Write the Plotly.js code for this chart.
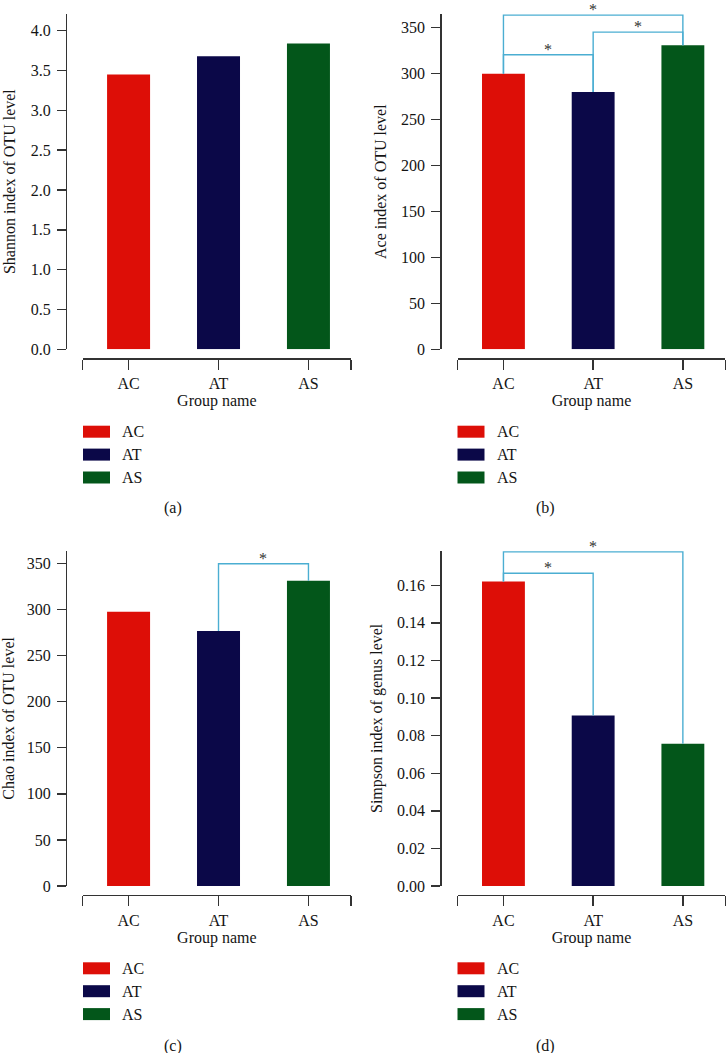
<!DOCTYPE html>
<html>
<head>
<meta charset="utf-8">
<script src="https://cdn.plot.ly/plotly-3.0.1.min.js"></script>
<style>html,body{margin:0;padding:0;background:#fff;}#chart{width:726px;height:1053px;}</style>
</head>
<body>
<div id="chart"></div>
<script>
// ---- data ----
const categories = ['AC', 'AT', 'AS'];
const shannon = [3.45, 3.68, 3.84];
const ace = [300, 280, 331];
const chao = [297.5, 276.5, 331];
const simpson = [0.162, 0.0907, 0.0757];
const barColors = ['#DD0E07', '#0B0848', '#03561A'];
const yTitles = ['Shannon index of OTU level', 'Ace index of OTU level', 'Chao index of OTU level', 'Simpson index of genus level'];
const xTitle = 'Group name';
const panelLabels = ['(a)', '(b)', '(c)', '(d)'];
// significance brackets: [group i, group j, bracket height]
const shannonSig = [];
const aceSig = [[0, 1, 320.7], [1, 2, 345.3], [0, 2, 363.8]];
const chaoSig = [[1, 2, 349.6]];
const simpsonSig = [[0, 1, 0.1664], [0, 2, 0.1778]];
const sigMark = '*';

// ---- layout geometry (pixels) ----
const W = 726, H = 1053;
const px = v => v / W;
const py = v => 1 - v / H;
const FONT = 'Liberation Serif, Times New Roman, serif';
const AXC = '#333333';
const BRC = '#4BAED2';
const TXT = '#141414';

const panels = [
  {vals: shannon, sig: shannonSig, yRange: [0, 4.21], dtick: 0.5, fmt: '.1f', xL: 82.7, xR: 351, yT: 14, yB: 349.3, xLine: 358.3, yAxisX: 66, legX: 83, legY: 431.7, capX: 173, capY: 508},
  {vals: ace, sig: aceSig, yRange: [0, 365], dtick: 50, fmt: 'd', xL: 457.7, xR: 725.3, yT: 14, yB: 349.3, xLine: 358.3, yAxisX: 440.3, legX: 457.5, legY: 431.7, capX: 545.7, capY: 508},
  {vals: chao, sig: chaoSig, yRange: [0, 363.7], dtick: 50, fmt: 'd', xL: 82.7, xR: 351, yT: 550.7, yB: 886, xLine: 895, yAxisX: 66, legX: 83, legY: 968.3, capX: 173, capY: 1046.3},
  {vals: simpson, sig: simpsonSig, yRange: [0, 0.1784], dtick: 0.02, fmt: '.2f', xL: 457.7, xR: 725.3, yT: 550.7, yB: 886, xLine: 895, yAxisX: 440.3, legX: 457.5, legY: 968.3, capX: 545.7, capY: 1046.3}
];

const xRange = [-0.51, 2.473];
const traces = [];
const shapes = [];
const annotations = [];
const layout = {
  width: W, height: H,
  margin: {l: 0, r: 0, t: 0, b: 0},
  paper_bgcolor: '#ffffff', plot_bgcolor: 'rgba(0,0,0,0)',
  showlegend: false,
  font: {family: FONT, size: 16, color: TXT},
  shapes: shapes, annotations: annotations
};

panels.forEach((p, k) => {
  const n = k === 0 ? '' : String(k + 1);
  const xa = 'x' + n, ya = 'y' + n;
  const xs = categories.map((c, i) => i);
  traces.push({
    type: 'bar', x: xs, y: p.vals, xaxis: xa, yaxis: ya,
    width: 0.478,
    marker: {color: barColors, line: {width: 0}},
    hoverinfo: 'skip'
  });
  p.sig.forEach(s => {
    const [i, j, h] = s;
    traces.push({
      type: 'scatter', mode: 'lines', xaxis: xa, yaxis: ya,
      x: [i, i, j, j], y: [p.vals[i], h, h, p.vals[j]],
      line: {color: BRC, width: 1.4}, hoverinfo: 'skip', cliponaxis: false
    });
    annotations.push({
      xref: xa, yref: ya, x: (i + j) / 2, y: h, text: sigMark,
      showarrow: false, yanchor: 'bottom', yshift: -4, borderpad: 0,
      font: {family: FONT, size: 16, color: '#333'}
    });
  });
  layout['xaxis' + n] = {
    domain: [px(p.xL), px(p.xR)], anchor: 'free', position: py(p.xLine),
    range: xRange, tickmode: 'array',
    tickvals: [xRange[0]].concat(xs, [xRange[1]]),
    ticktext: [''].concat(categories, ['']),
    ticks: 'outside', ticklen: 10, tickwidth: 1.4, tickcolor: AXC,
    showline: true, linecolor: AXC, linewidth: 1.4,
    showgrid: false, zeroline: false, automargin: false, fixedrange: true,
    tickfont: {family: FONT, size: 16, color: TXT},
    title: {text: xTitle, font: {family: FONT, size: 16, color: TXT}, standoff: 2}
  };
  layout['yaxis' + n] = {
    domain: [py(p.yB), py(p.yT)], anchor: 'free', position: px(p.yAxisX),
    range: p.yRange, tick0: 0, dtick: p.dtick, tickformat: p.fmt,
    ticks: 'outside', ticklen: 9, tickwidth: 1.4, tickcolor: AXC,
    showline: true, linecolor: AXC, linewidth: 1.4,
    showgrid: false, zeroline: false, automargin: false, fixedrange: true,
    ticklabelstandoff: 3,
    tickfont: {family: FONT, size: 16, color: TXT},
    title: {text: yTitles[k], font: {family: FONT, size: 16, color: TXT}, standoff: 9}
  };
  // legend (drawn manually)
  categories.forEach((c, i) => {
    const cy = p.legY + i * 22.9;
    shapes.push({
      type: 'rect', xref: 'paper', yref: 'paper',
      x0: px(p.legX), x1: px(p.legX + 27), y0: py(cy + 6), y1: py(cy - 6),
      fillcolor: barColors[i], line: {width: 0}
    });
    annotations.push({
      xref: 'paper', yref: 'paper', x: px(p.legX + 37), y: py(cy),
      xanchor: 'left', yanchor: 'middle', text: c, showarrow: false,
      font: {family: FONT, size: 16, color: TXT}
    });
  });
  annotations.push({
    xref: 'paper', yref: 'paper', x: px(p.capX), y: py(p.capY),
    xanchor: 'center', yanchor: 'middle', text: panelLabels[k], showarrow: false,
    font: {family: FONT, size: 16, color: TXT}
  });
});

Plotly.newPlot('chart', traces, layout, {staticPlot: true, displayModeBar: false});
</script>
</body>
</html>
